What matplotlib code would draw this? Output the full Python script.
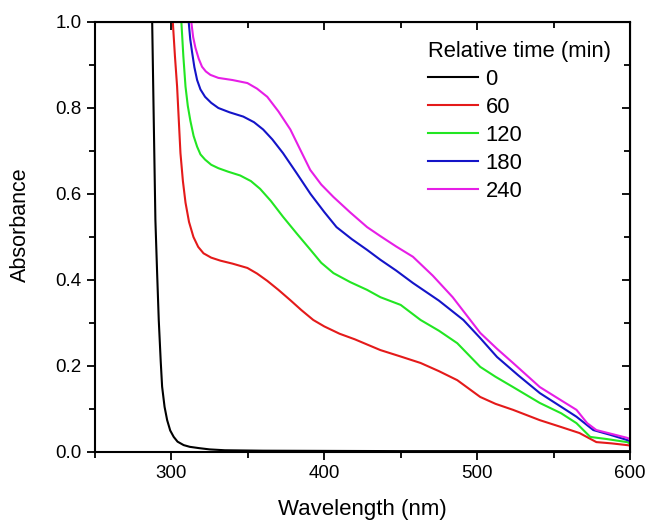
import numpy as np
import matplotlib
matplotlib.use("Agg")
import matplotlib.pyplot as plt
from matplotlib.ticker import MultipleLocator

plt.rcParams['font.family'] = ['Liberation Sans', 'DejaVu Sans']

# UV-vis spectra, values
wl_0 = [286.8, 287.4, 288.3, 289.5, 290.6, 291.7, 293.0, 293.9, 295.5, 297.2, 299.2,
        301.5, 304.0, 308.0, 312.0, 318.0, 325.0, 335.0, 360.0, 450.0, 600.0]
abs_0 = [1.2, 1.0, 0.8, 0.54, 0.42, 0.307, 0.21, 0.152, 0.105, 0.074, 0.05,
         0.035, 0.024, 0.016, 0.012, 0.009, 0.006, 0.004, 0.003, 0.002, 0.002]

wl_60 = [300.2, 300.9, 302.3, 303.7, 305.9, 307.5, 309.2, 311.5, 314.4, 317.5, 321.0,
         326.0, 332.0, 340.0, 349.7, 356.0, 362.7, 370.0, 377.8, 385.0, 392.8, 400.0,
         410.0, 420.0, 430.0, 436.7, 450.0, 463.0, 475.0, 487.0, 502.0, 512.0, 523.5,
         541.0, 555.0, 567.0, 578.0, 588.0, 598.0, 600.0]
abs_60 = [1.1, 1.0, 0.92, 0.85, 0.695, 0.63, 0.58, 0.535, 0.5, 0.477, 0.462,
          0.452, 0.445, 0.438, 0.428, 0.415, 0.398, 0.377, 0.353, 0.33, 0.307, 0.292,
          0.275, 0.262, 0.247, 0.237, 0.222, 0.207, 0.188, 0.167, 0.128, 0.112, 0.098,
          0.074, 0.058, 0.044, 0.023, 0.02, 0.016, 0.015]

wl_120 = [306.0, 306.5, 307.8, 309.2, 310.7, 312.4, 314.5, 316.8, 319.0, 322.0, 326.0,
          330.7, 337.0, 345.0, 352.0, 358.0, 365.0, 373.0, 382.0, 391.0, 398.0, 406.0,
          417.0, 428.0, 436.7, 450.0, 463.0, 475.0, 487.0, 502.0, 512.0, 523.5, 541.0,
          555.0, 565.0, 574.0, 585.0, 598.0, 600.0]
abs_120 = [1.1, 1.0, 0.92, 0.85, 0.805, 0.77, 0.735, 0.71, 0.692, 0.68, 0.668,
           0.66, 0.652, 0.643, 0.63, 0.612, 0.584, 0.547, 0.508, 0.47, 0.44, 0.416,
           0.395, 0.377, 0.36, 0.342, 0.307, 0.282, 0.253, 0.198, 0.175, 0.151, 0.114,
           0.09, 0.067, 0.035, 0.03, 0.023, 0.02]

wl_180 = [310.8, 311.3, 312.3, 313.5, 315.0, 316.8, 319.0, 322.0, 326.0, 330.7, 338.0,
          347.0, 354.0, 360.0, 366.0, 373.0, 382.0, 391.0, 400.0, 408.0, 418.0, 428.0,
          436.7, 447.0, 458.0, 475.0, 491.0, 502.0, 513.0, 527.0, 541.0, 555.0, 565.0,
          576.0, 587.0, 598.0, 600.0]
abs_180 = [1.1, 1.0, 0.96, 0.93, 0.895, 0.865, 0.843, 0.826, 0.812, 0.80, 0.79,
           0.78, 0.767, 0.75, 0.727, 0.695, 0.648, 0.60, 0.558, 0.523, 0.495, 0.47,
           0.447, 0.422, 0.393, 0.352, 0.307, 0.265, 0.221, 0.178, 0.137, 0.105, 0.082,
           0.051, 0.04, 0.028, 0.025]

wl_240 = [312.5, 313.0, 314.2, 315.7, 317.8, 320.0, 322.5, 325.5, 330.7, 340.0, 349.7,
          356.0, 362.7, 370.0, 377.8, 384.0, 390.8, 398.0, 406.0, 417.0, 428.0, 436.7,
          447.0, 458.0, 471.0, 484.0, 502.0, 513.0, 523.5, 541.0, 555.0, 565.0, 572.0,
          578.0, 588.0, 598.0, 600.0]
abs_240 = [1.1, 1.0, 0.965, 0.94, 0.915, 0.896, 0.885, 0.877, 0.87, 0.865, 0.858,
           0.845, 0.826, 0.792, 0.75, 0.705, 0.656, 0.622, 0.593, 0.557, 0.523, 0.502,
           0.478, 0.454, 0.41, 0.36, 0.277, 0.24, 0.207, 0.151, 0.12, 0.098, 0.067,
           0.051, 0.042, 0.033, 0.03]

times = ['0', '60', '120', '180', '240']
colors = ['#000000', '#e41a1a', '#22e622', '#1414c8', '#e61ee6']

fig = plt.figure(figsize=(6.49, 5.2), dpi=100)
ax = fig.add_axes([0.1464, 0.1308, 0.8243, 0.8269])

series = [(wl_0, abs_0), (wl_60, abs_60), (wl_120, abs_120), (wl_180, abs_180), (wl_240, abs_240)]
for (w, a), t, c in zip(series, times, colors):
    ax.plot(w, a, color=c, lw=1.5, label=t)

ax.set_xlim(250, 600)
ax.set_ylim(0, 1.0)
ax.xaxis.set_major_locator(MultipleLocator(100))
ax.xaxis.set_minor_locator(MultipleLocator(50))
ax.yaxis.set_major_locator(MultipleLocator(0.2))
ax.yaxis.set_minor_locator(MultipleLocator(0.1))
ax.yaxis.set_major_formatter(matplotlib.ticker.FormatStrFormatter('%.1f'))
ax.tick_params(which='both', direction='out', width=1.3, labelsize=13.5, top=False, right=False)
ax.tick_params(which='major', length=6)
ax.tick_params(which='minor', length=4)
for s in ax.spines.values():
    s.set_linewidth(1.5)

# mirror ticks on top and right point inward
top = ax.secondary_xaxis('top')
top.xaxis.set_major_locator(MultipleLocator(100))
top.xaxis.set_minor_locator(MultipleLocator(50))
top.tick_params(which='both', direction='in', width=1.3, labeltop=False)
top.tick_params(which='major', length=6)
top.tick_params(which='minor', length=4)
right = ax.secondary_yaxis('right')
right.yaxis.set_major_locator(MultipleLocator(0.2))
right.yaxis.set_minor_locator(MultipleLocator(0.1))
right.tick_params(which='both', direction='in', width=1.3, labelright=False)
right.tick_params(which='major', length=6)
right.tick_params(which='minor', length=4)

ax.set_xlabel('Wavelength (nm)', fontsize=16, labelpad=12)
ax.set_ylabel('Absorbance', fontsize=15.5)
ax.yaxis.set_label_coords(-0.12, 0.528)

leg = ax.legend(title='Relative time (min)', loc='upper right', frameon=False,
                fontsize=15.8, title_fontsize=15.8, handlelength=2.28, handletextpad=0.32,
                labelspacing=0.32, alignment='left', borderaxespad=0.45)

fig.savefig('out.png', dpi=100)
